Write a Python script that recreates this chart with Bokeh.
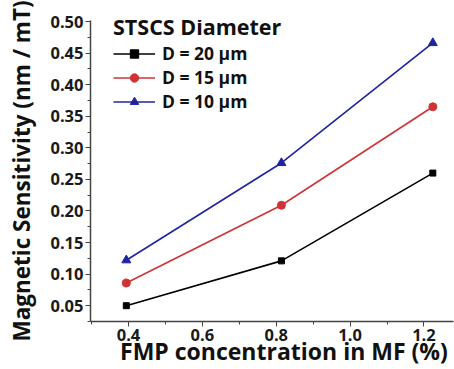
from bokeh.plotting import figure
from bokeh.models import Range1d, Legend, LegendItem, FixedTicker, NumeralTickFormatter
from bokeh.embed import file_html
from bokeh.resources import INLINE

conc = [0.394, 0.814, 1.224]
d20 = [0.050, 0.121, 0.260]
d15 = [0.086, 0.209, 0.365]
d10 = [0.122, 0.276, 0.466]
labels = ["D = 20 µm", "D = 15 µm", "D = 10 µm"]
colors = ["#000000", "#d03333", "#1f23a0"]
x_ticks = [0.4, 0.6, 0.8, 1.0, 1.2]
x_minor = [0.3, 0.5, 0.7, 0.9, 1.1]
y_ticks = [0.05, 0.10, 0.15, 0.20, 0.25, 0.30, 0.35, 0.40, 0.45, 0.50]
y_minor = [0.025, 0.075, 0.125, 0.175, 0.225, 0.275, 0.325, 0.375, 0.425, 0.475]
x_title = "FMP concentration in MF (%)"
y_title = "Magnetic Sensitivity (nm / mT)"

FONT = "Open Sans"
NB = "\u00a0"

p = figure(width=454, height=369, output_backend="svg", toolbar_location=None,
           x_range=Range1d(0.297, 1.28), y_range=Range1d(0.025, 0.5016),
           min_border_left=90, min_border_right=1, min_border_top=20, min_border_bottom=46)
p.outline_line_color = None
p.grid.visible = False
p.background_fill_color = "white"

r1l = p.line(conc, d20, color=colors[0], line_width=1.6)
r1m = p.scatter(conc, d20, marker="square", size=6, color=colors[0])
r2l = p.line(conc, d15, color=colors[1], line_width=1.6)
r2m = p.scatter(conc, d15, marker="circle", size=8, color=colors[1])
r3l = p.line(conc, d10, color=colors[2], line_width=1.6)
r3m = p.scatter(conc, d10, marker="triangle", size=9, color=colors[2])

legend = Legend(items=[LegendItem(label=labels[0], renderers=[r1l, r1m]),
                       LegendItem(label=labels[1], renderers=[r2l, r2m]),
                       LegendItem(label=labels[2], renderers=[r3l, r3m])],
                location=(23, 208))
legend.title = "STSCS Diameter"
legend.title_text_font = FONT
legend.title_text_font_style = "bold"
legend.title_text_font_size = "21.5px"
legend.title_text_color = "#111111"
legend.title_standoff = 0
legend.label_text_font = FONT
legend.label_text_font_style = "bold"
legend.label_text_font_size = "17.5px"
legend.label_text_color = "#111111"
legend.label_standoff = 7
legend.glyph_width = 42
legend.glyph_height = 21
legend.label_height = 21
legend.spacing = -1
legend.padding = 0
legend.margin = 0
legend.border_line_color = None
legend.background_fill_alpha = 0
p.add_layout(legend)

for ax in (p.xaxis, p.yaxis):
    ax.axis_line_color = "#444444"
    ax.axis_line_width = 1.5
    ax.major_tick_line_color = "#444444"
    ax.minor_tick_line_color = "#444444"
    ax.major_tick_in = 0
    ax.major_tick_out = 5
    ax.minor_tick_in = 0
    ax.minor_tick_out = 3
    ax.major_label_text_font = FONT
    ax.major_label_text_font_style = "bold"
    ax.major_label_text_font_size = "16.5px"
    ax.major_label_text_color = "#1a1a1a"
    ax.axis_label_text_font = FONT
    ax.axis_label_text_font_style = "bold"
    ax.axis_label_text_color = "#111111"

p.xaxis.ticker = FixedTicker(ticks=x_ticks, minor_ticks=x_minor)
p.yaxis.ticker = FixedTicker(ticks=y_ticks, minor_ticks=y_minor)
p.xaxis.formatter = NumeralTickFormatter(format="0.0")
p.yaxis.formatter = NumeralTickFormatter(format="0.00")
p.xaxis.major_label_standoff = 2
p.yaxis.major_label_standoff = 2

p.yaxis.axis_label = y_title
p.yaxis.axis_label_text_font_size = "22.5px"
p.yaxis.axis_label_standoff = 10

# leading spaces shift the centred title to where the reference has it
p.xaxis.axis_label = NB * 4 + x_title
p.xaxis.axis_label_text_font_size = "23px"
p.xaxis.axis_label_standoff = -9

open("out.html", "w").write(file_html(p, INLINE))
